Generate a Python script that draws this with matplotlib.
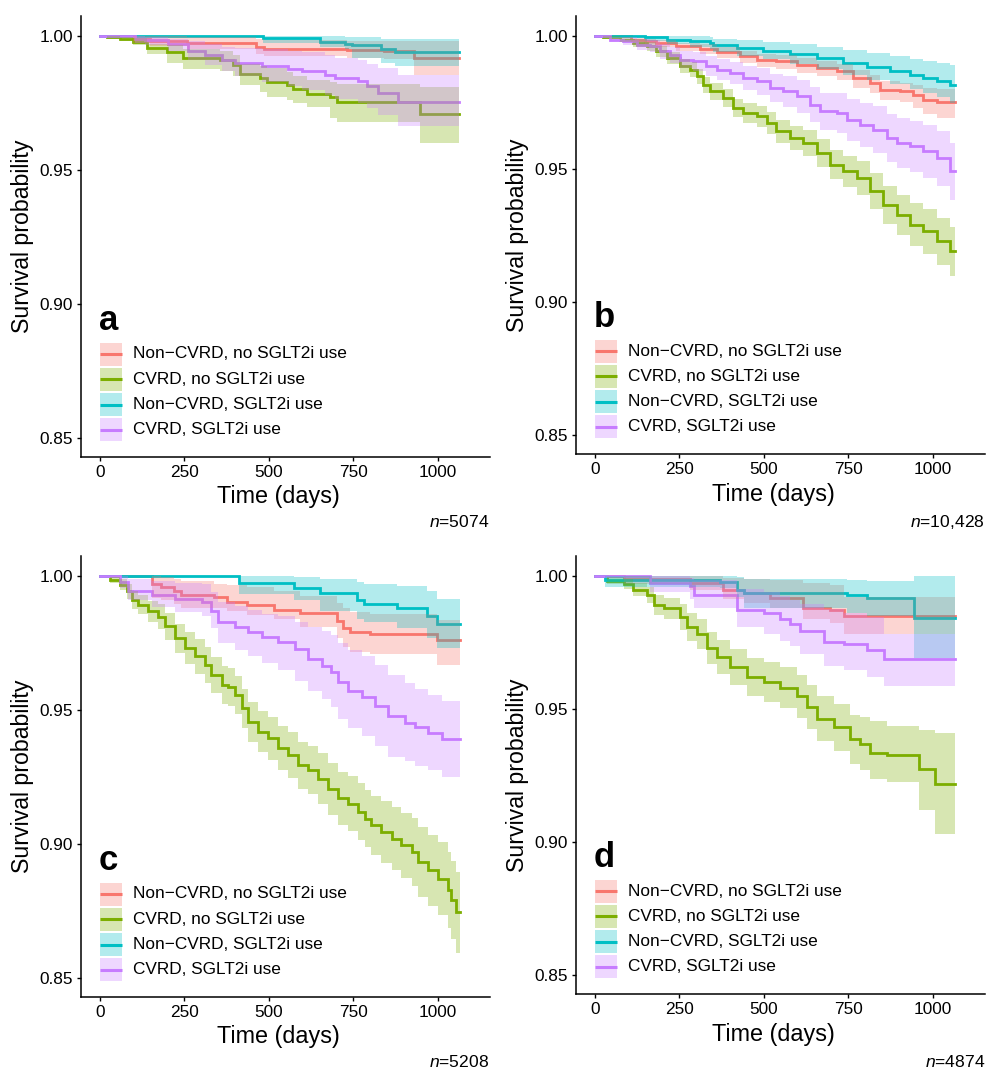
import matplotlib
matplotlib.use("Agg")
import matplotlib.pyplot as plt
from matplotlib.patches import Rectangle
from matplotlib.lines import Line2D

plt.rcParams["font.family"] = ["Liberation Sans", "DejaVu Sans"]
plt.rcParams["mathtext.fontset"] = "custom"
plt.rcParams["mathtext.it"] = "Liberation Sans:italic"
plt.rcParams["mathtext.rm"] = "Liberation Sans"

GROUPS = ["Non\u2212CVRD, no SGLT2i use", "CVRD, no SGLT2i use",
          "Non\u2212CVRD, SGLT2i use", "CVRD, SGLT2i use"]
COLORS = ["#F8766D", "#7CAE00", "#00BFC4", "#C77CFF"]
LETTERS = ["a", "b", "c", "d"]
N_LABELS = ["5074", "10,428", "5208", "4874"]
X_TICKS = [0, 250, 500, 750, 1000]
Y_TICKS = [0.85, 0.90, 0.95, 1.00]

# ---- panel a ----
a_r_t = [0, 99, 148, 257, 463, 484, 730, 839, 928, 1063]
a_r_s = [1.0, 0.9991, 0.9983, 0.9975, 0.996, 0.995, 0.9948, 0.9945, 0.992, 0.992]
a_r_lo = [1.0, 0.9975, 0.9962, 0.995, 0.9935, 0.9925, 0.9918, 0.9915, 0.9855, 0.9855]
a_r_hi = [1.0, 1.0, 1.0, 0.9995, 0.999, 0.9985, 0.9983, 0.9982, 0.998, 0.998]

a_g_t = [0, 20, 60, 99, 138, 197, 247, 355, 395, 414, 473, 493, 552, 572, 612, 681, 700, 948, 1063]
a_g_s = [1.0, 0.9995, 0.999, 0.9979, 0.9954, 0.9942, 0.9917, 0.991, 0.9892, 0.9858, 0.9842, 0.983,
         0.9817, 0.9801, 0.9784, 0.9771, 0.9755, 0.9711, 0.9711]
a_g_lo = [1.0, 0.999, 0.998, 0.9965, 0.9935, 0.990, 0.9878, 0.987, 0.985, 0.9818, 0.979, 0.9774,
          0.9762, 0.975, 0.9735, 0.9693, 0.9678, 0.960, 0.960]
a_g_hi = [1.0, 1.0, 0.9998, 0.9992, 0.9971, 0.9965, 0.9952, 0.9946, 0.993, 0.9894, 0.989, 0.988,
          0.9867, 0.985, 0.9835, 0.983, 0.982, 0.981, 0.981]

a_c_t = [0, 483, 650, 725, 745, 833, 872, 1063]
a_c_s = [1.0, 0.9993, 0.9978, 0.9972, 0.9965, 0.9953, 0.994, 0.994]
a_c_lo = [1.0, 0.9975, 0.9958, 0.995, 0.992, 0.990, 0.989, 0.989]
a_c_hi = [1.0, 1.0, 1.0, 0.9998, 0.9995, 0.999, 0.9988, 0.9988]

a_p_t = [0, 103, 133, 200, 261, 310, 360, 399, 478, 557, 597, 665, 695, 764, 790, 823, 882, 1063]
a_p_s = [1.0, 0.9991, 0.9985, 0.997, 0.9943, 0.993, 0.9911, 0.9899, 0.9887, 0.9878, 0.9871, 0.9856,
         0.9843, 0.9831, 0.9813, 0.9788, 0.9754, 0.9754]
a_p_lo = [1.0, 0.9975, 0.9965, 0.9945, 0.991, 0.9893, 0.9868, 0.985, 0.983, 0.9815, 0.98, 0.978,
          0.9765, 0.975, 0.973, 0.9705, 0.9665, 0.9665]
a_p_hi = [1.0, 1.0, 0.9998, 0.999, 0.998, 0.9972, 0.996, 0.9955, 0.995, 0.9945, 0.994, 0.993,
          0.992, 0.991, 0.9895, 0.988, 0.9855, 0.9855]

# ---- panel b ----
b_r_t = [0, 108, 148, 182, 241, 310, 360, 429, 478, 537, 597, 656, 715, 764, 814, 843, 902, 942,
         971, 1011, 1066]
b_r_s = [1.0, 0.9986, 0.998, 0.9974, 0.9961, 0.9952, 0.994, 0.9924, 0.9911, 0.9905, 0.9892,
         0.988, 0.9867, 0.9842, 0.9823, 0.9798, 0.9792, 0.9779, 0.976, 0.9752, 0.9752]
b_r_lo = [1.0, 0.9977, 0.9968, 0.996, 0.9944, 0.9932, 0.9918, 0.990, 0.9885, 0.9877, 0.9862,
          0.9848, 0.9833, 0.9806, 0.9785, 0.9759, 0.9752, 0.9731, 0.9705, 0.9692, 0.9692]
b_r_hi = [1.0, 0.9993, 0.999, 0.9985, 0.9975, 0.9968, 0.9958, 0.9943, 0.9932, 0.9927, 0.9916,
          0.9906, 0.9894, 0.9871, 0.9853, 0.9829, 0.9824, 0.9817, 0.9804, 0.980, 0.980]

b_g_t = [0, 24, 74, 113, 153, 182, 212, 251, 281, 301, 320, 340, 380, 409, 439, 478, 508, 537,
         577, 616, 656, 695, 735, 774, 814, 853, 893, 932, 971, 1011, 1050, 1066]
b_g_s = [1.0, 0.9995, 0.9986, 0.9974, 0.9961, 0.9942, 0.9917, 0.9886, 0.9873, 0.9848, 0.9817,
         0.9792, 0.9767, 0.9729, 0.971, 0.9698, 0.9673, 0.9642, 0.9616, 0.9598, 0.956, 0.9516,
         0.9491, 0.9466, 0.9416, 0.9366, 0.9328, 0.9291, 0.9266, 0.9228, 0.9191, 0.9191]
b_g_lo = [1.0, 0.999, 0.9976, 0.996, 0.9943, 0.9922, 0.9894, 0.986, 0.9845, 0.9819, 0.9787,
          0.9761, 0.9734, 0.9694, 0.9673, 0.9659, 0.9632, 0.9599, 0.957, 0.9549, 0.9508, 0.9461,
          0.9432, 0.9403, 0.9348, 0.9294, 0.9252, 0.9211, 0.9182, 0.914, 0.9099, 0.9099]
b_g_hi = [1.0, 1.0, 0.9996, 0.9988, 0.9979, 0.9962, 0.994, 0.9912, 0.9901, 0.9877, 0.9847,
          0.9823, 0.980, 0.9764, 0.9747, 0.9737, 0.9714, 0.9685, 0.9662, 0.9647, 0.9612, 0.9571,
          0.955, 0.9529, 0.9484, 0.9438, 0.9404, 0.9371, 0.935, 0.9316, 0.9283, 0.9283]

b_c_t = [0, 148, 212, 281, 340, 350, 419, 498, 577, 656, 735, 804, 873, 932, 971, 1011, 1050, 1066]
b_c_s = [1.0, 0.9995, 0.9986, 0.998, 0.9974, 0.9965, 0.9955, 0.9945, 0.9932, 0.9917, 0.9898,
         0.9882, 0.987, 0.9855, 0.9842, 0.983, 0.9817, 0.9817]
b_c_lo = [1.0, 0.9982, 0.9968, 0.9958, 0.995, 0.9938, 0.9925, 0.9912, 0.9895, 0.9876, 0.9853,
          0.9834, 0.982, 0.9802, 0.9787, 0.9772, 0.9748, 0.9748]
b_c_hi = [1.0, 1.0, 1.0, 0.9998, 0.9995, 0.999, 0.9985, 0.9978, 0.997, 0.996, 0.9948, 0.9935,
          0.9925, 0.9912, 0.9905, 0.9898, 0.989, 0.989]

b_p_t = [0, 44, 84, 123, 163, 192, 222, 251, 291, 330, 360, 399, 439, 478, 518, 557, 597, 636,
         666, 715, 745, 784, 823, 863, 893, 932, 971, 1011, 1050, 1066]
b_p_s = [1.0, 0.9986, 0.998, 0.9967, 0.9961, 0.9942, 0.993, 0.9911, 0.9905, 0.9886, 0.9873,
         0.9861, 0.9842, 0.9829, 0.9804, 0.9792, 0.9773, 0.9742, 0.9717, 0.971, 0.9685, 0.9666,
         0.9648, 0.9616, 0.9598, 0.9585, 0.9566, 0.9541, 0.9491, 0.9491]
b_p_lo = [1.0, 0.9976, 0.9965, 0.9947, 0.9938, 0.9915, 0.990, 0.9878, 0.987, 0.9848, 0.9833,
          0.9818, 0.9796, 0.9779, 0.975, 0.9734, 0.9711, 0.9676, 0.9647, 0.9635, 0.9606, 0.9583,
          0.9561, 0.9525, 0.9504, 0.9488, 0.9466, 0.9438, 0.9384, 0.9384]
b_p_hi = [1.0, 0.9996, 0.9995, 0.9987, 0.9984, 0.9969, 0.996, 0.9944, 0.994, 0.9924, 0.9913,
          0.9904, 0.9888, 0.9879, 0.9858, 0.985, 0.9835, 0.9808, 0.9787, 0.9785, 0.9764, 0.9749,
          0.9735, 0.9707, 0.9692, 0.9682, 0.9666, 0.9644, 0.9598, 0.9598]

# ---- panel c ----
c_r_t = [0, 154, 180, 218, 240, 336, 375, 435, 514, 592, 701, 720, 740, 800, 997, 1064]
c_r_s = [1.0, 0.9969, 0.996, 0.9943, 0.993, 0.9921, 0.9904, 0.9891, 0.9874, 0.9863, 0.9833,
         0.9807, 0.9791, 0.9784, 0.976, 0.976]
c_r_lo = [1.0, 0.992, 0.991, 0.9895, 0.988, 0.988, 0.987, 0.9855, 0.984, 0.981, 0.977, 0.9735,
          0.9716, 0.971, 0.967, 0.967]
c_r_hi = [1.0, 1.0, 0.9995, 0.9988, 0.9982, 0.9972, 0.9965, 0.996, 0.9945, 0.9925, 0.990,
          0.988, 0.9865, 0.986, 0.9835, 0.9835]

c_g_t = [0, 29, 59, 79, 94, 114, 143, 173, 192, 222, 251, 281, 310, 330, 360, 380, 399, 419, 439,
         468, 498, 528, 557, 587, 616, 646, 675, 705, 735, 764, 784, 803, 833, 863, 892, 922, 942,
         971, 1001, 1030, 1040, 1052, 1064]
c_g_s = [1.0, 0.9986, 0.9968, 0.9943, 0.9911, 0.9893, 0.9868, 0.9849, 0.9812, 0.9768, 0.9731,
         0.970, 0.9668, 0.9631, 0.9594, 0.9587, 0.9556, 0.9506, 0.9456, 0.9419, 0.9394, 0.9357,
         0.9332, 0.9294, 0.9276, 0.9244, 0.9207, 0.917, 0.9151, 0.912, 0.9095, 0.907, 0.9045,
         0.902, 0.8995, 0.897, 0.8933, 0.8902, 0.8871, 0.8827, 0.879, 0.8745, 0.8745]
c_g_lo = [1.0, 0.9974, 0.9948, 0.9916, 0.9879, 0.9857, 0.9828, 0.9803, 0.9762, 0.9713, 0.9671,
          0.9636, 0.9602, 0.9563, 0.9524, 0.9516, 0.9484, 0.9433, 0.9381, 0.9342, 0.9315, 0.9275,
          0.9247, 0.9206, 0.9185, 0.915, 0.911, 0.907, 0.9048, 0.9014, 0.8987, 0.896, 0.8931,
          0.8902, 0.8873, 0.8844, 0.8804, 0.8769, 0.8734, 0.8685, 0.8645, 0.8595, 0.8595]
c_g_hi = [1.0, 0.9998, 0.9988, 0.997, 0.9943, 0.9929, 0.9908, 0.9895, 0.9862, 0.9823, 0.9791,
          0.9764, 0.9734, 0.9699, 0.9664, 0.9658, 0.9628, 0.9579, 0.9531, 0.9496, 0.9473, 0.9439,
          0.9417, 0.9382, 0.9367, 0.9338, 0.9304, 0.927, 0.9254, 0.9226, 0.9203, 0.918, 0.9159,
          0.9138, 0.9117, 0.9096, 0.9062, 0.9035, 0.9008, 0.8969, 0.8935, 0.8895, 0.8895]

c_c_t = [0, 410, 573, 651, 760, 780, 879, 967, 997, 1064]
c_c_s = [1.0, 0.9973, 0.9956, 0.9937, 0.9911, 0.9895, 0.9882, 0.9852, 0.9823, 0.9823]
c_c_lo = [1.0, 0.9935, 0.991, 0.9868, 0.984, 0.983, 0.9805, 0.977, 0.973, 0.973]
c_c_hi = [1.0, 1.0, 0.9995, 0.999, 0.9978, 0.997, 0.9962, 0.9945, 0.9915, 0.9915]

c_p_t = [0, 59, 84, 153, 222, 301, 330, 350, 399, 439, 478, 528, 577, 616, 656, 685, 705, 735,
         774, 814, 853, 902, 932, 971, 1011, 1064]
c_p_s = [1.0, 0.9978, 0.9946, 0.9928, 0.9915, 0.9903, 0.9871, 0.9828, 0.9809, 0.979, 0.9772,
         0.9753, 0.9728, 0.969, 0.9666, 0.9641, 0.9603, 0.9572, 0.9547, 0.9516, 0.9478, 0.9453,
         0.9435, 0.9416, 0.9391, 0.9391]
c_p_lo = [1.0, 0.9955, 0.991, 0.9885, 0.9865, 0.985, 0.9805, 0.975, 0.9725, 0.970, 0.9675,
          0.965, 0.961, 0.957, 0.954, 0.951, 0.9465, 0.9432, 0.9405, 0.9365, 0.9325, 0.931,
          0.929, 0.9275, 0.925, 0.925]
c_p_hi = [1.0, 1.0, 0.999, 0.998, 0.9975, 0.997, 0.994, 0.9905, 0.989, 0.9875, 0.986, 0.985,
          0.983, 0.981, 0.9795, 0.978, 0.975, 0.9725, 0.970, 0.967, 0.963, 0.960, 0.958, 0.9555,
          0.9535, 0.9535]

# ---- panel d ----
d_r_t = [0, 85, 282, 380, 440, 519, 617, 696, 736, 1064]
d_r_s = [1.0, 0.9988, 0.9975, 0.9949, 0.9937, 0.9917, 0.9878, 0.9872, 0.9848, 0.9848]
d_r_lo = [1.0, 0.997, 0.9948, 0.9915, 0.990, 0.988, 0.984, 0.9825, 0.978, 0.978]
d_r_hi = [1.0, 1.0, 0.9998, 0.9993, 0.999, 0.9985, 0.9972, 0.9965, 0.9922, 0.9922]

d_g_t = [0, 35, 85, 114, 154, 174, 203, 252, 272, 302, 331, 361, 400, 450, 499, 548, 598, 627,
         657, 706, 755, 785, 814, 864, 958, 1007, 1064]
d_g_s = [1.0, 0.9982, 0.9969, 0.9949, 0.993, 0.9891, 0.9878, 0.9846, 0.9807, 0.9781, 0.9729,
         0.9697, 0.9658, 0.9619, 0.960, 0.958, 0.9548, 0.9509, 0.9464, 0.9431, 0.9386, 0.9367,
         0.9334, 0.9328, 0.9276, 0.9218, 0.9218]
d_g_lo = [1.0, 0.9968, 0.995, 0.9925, 0.990, 0.9855, 0.984, 0.9798, 0.9755, 0.9725, 0.9668,
          0.9633, 0.959, 0.9548, 0.9525, 0.9502, 0.9468, 0.9426, 0.9378, 0.9342, 0.9293, 0.9272,
          0.9236, 0.9225, 0.912, 0.903, 0.903]
d_g_hi = [1.0, 0.9996, 0.9988, 0.9972, 0.996, 0.9927, 0.9916, 0.9894, 0.9859, 0.9837, 0.979,
          0.9761, 0.9726, 0.969, 0.9675, 0.9658, 0.9628, 0.9592, 0.955, 0.952, 0.9479, 0.947,
          0.9455, 0.9436, 0.942, 0.9408, 0.9408]

d_c_t = [0, 30, 371, 420, 440, 746, 805, 943, 1064]
d_c_s = [1.0, 0.9986, 0.9977, 0.9949, 0.9936, 0.9927, 0.9917, 0.9842, 0.9842]
d_c_lo = [1.0, 0.996, 0.9955, 0.992, 0.988, 0.9862, 0.985, 0.969, 0.969]
d_c_hi = [1.0, 1.0, 1.0, 0.9995, 0.999, 0.9985, 0.998, 1.0, 1.0]

d_p_t = [0, 164, 282, 292, 420, 499, 548, 578, 607, 677, 736, 805, 855, 1064]
d_p_s = [1.0, 0.9975, 0.9962, 0.993, 0.9872, 0.9859, 0.9839, 0.982, 0.9794, 0.9753, 0.9743,
         0.9723, 0.9688, 0.9688]
d_p_lo = [1.0, 0.994, 0.9915, 0.988, 0.981, 0.978, 0.9755, 0.9735, 0.9705, 0.966, 0.9645,
          0.962, 0.9585, 0.9585]
d_p_hi = [1.0, 1.0, 0.9992, 0.9985, 0.995, 0.994, 0.9925, 0.991, 0.9895, 0.9875, 0.986,
          0.9845, 0.978, 0.978]

panels = [
    [(a_r_t, a_r_s, a_r_lo, a_r_hi), (a_g_t, a_g_s, a_g_lo, a_g_hi),
     (a_c_t, a_c_s, a_c_lo, a_c_hi), (a_p_t, a_p_s, a_p_lo, a_p_hi)],
    [(b_r_t, b_r_s, b_r_lo, b_r_hi), (b_g_t, b_g_s, b_g_lo, b_g_hi),
     (b_c_t, b_c_s, b_c_lo, b_c_hi), (b_p_t, b_p_s, b_p_lo, b_p_hi)],
    [(c_r_t, c_r_s, c_r_lo, c_r_hi), (c_g_t, c_g_s, c_g_lo, c_g_hi),
     (c_c_t, c_c_s, c_c_lo, c_c_hi), (c_p_t, c_p_s, c_p_lo, c_p_hi)],
    [(d_r_t, d_r_s, d_r_lo, d_r_hi), (d_g_t, d_g_s, d_g_lo, d_g_hi),
     (d_c_t, d_c_s, d_c_lo, d_c_hi), (d_p_t, d_p_s, d_p_lo, d_p_hi)],
]

W, H = 987, 1075
# axes boxes in pixels: left, top, right, bottom
boxes = [(81, 16, 490, 457), (576, 16, 985, 454), (81, 556, 490, 997), (576, 556, 985, 994)]
n_pos = [(489, 522), (985, 522), (489, 1062), (985, 1062)]

fig = plt.figure(figsize=(W / 100, H / 100), dpi=100)

for i, curves in enumerate(panels):
    l, t, r, b = boxes[i]
    aw, ah = r - l, b - t
    ax = fig.add_axes([l / W, (H - b) / H, aw / W, ah / H])

    # lines first, ribbons over them (as ggsurvplot does)
    for (tt, ss, lo, hi), col in zip(curves, COLORS):
        ax.step(tt, ss, where="post", color=col, lw=2.0, zorder=2, solid_joinstyle="miter")
    for (tt, ss, lo, hi), col in zip(curves, COLORS):
        ax.fill_between(tt, lo, hi, step="post", color=col, alpha=0.3, lw=0, zorder=3)

    ax.set_xlim(-56, 1154)
    ax.set_ylim(0.8429, 1.0075)
    ax.set_xticks(X_TICKS)
    ax.set_yticks(Y_TICKS)
    ax.set_yticklabels([f"{v:.2f}" for v in Y_TICKS])
    for s in ["top", "right"]:
        ax.spines[s].set_visible(False)
    for s in ["left", "bottom"]:
        ax.spines[s].set_linewidth(1.1)
        ax.spines[s].set_color("black")
    ax.tick_params(axis="both", length=3, width=1.0, color="black", labelsize=12.4,
                   labelcolor="black", pad=3)

    ax.set_xlabel("Time (days)", fontsize=16.8)
    ax.xaxis.set_label_coords(197 / aw, -40 / ah)
    ax.xaxis.label.set_va("center")
    ax.set_ylabel("Survival probability", fontsize=16.7)
    ax.yaxis.set_label_coords(-58 / aw, 0.5)
    ax.yaxis.label.set_va("center")

    # legend drawn inside the panel, letter as its title
    ax.text(18 / aw, 127 / ah, LETTERS[i], transform=ax.transAxes, fontsize=25,
            fontweight="bold", ha="left", va="baseline")
    for k, (name, col) in enumerate(zip(GROUPS, COLORS)):
        yc = (103 - 25.3 * k) / ah
        ax.add_patch(Rectangle((19 / aw, yc - 11.5 / ah), 22 / aw, 23 / ah,
                               transform=ax.transAxes, facecolor=col, alpha=0.3, lw=0,
                               clip_on=False))
        ax.add_line(Line2D([19 / aw, 41 / aw], [yc, yc], transform=ax.transAxes, color=col,
                           lw=2.2, solid_capstyle="butt", clip_on=False))
        ax.text(52 / aw, yc, name, transform=ax.transAxes, fontsize=12.4, ha="left",
                va="center")

    nx, ny = n_pos[i]
    fig.text(nx / W, 1 - ny / H, "$n$=" + N_LABELS[i], fontsize=12.6, ha="right", va="center")

fig.savefig("out.png", dpi=100)
